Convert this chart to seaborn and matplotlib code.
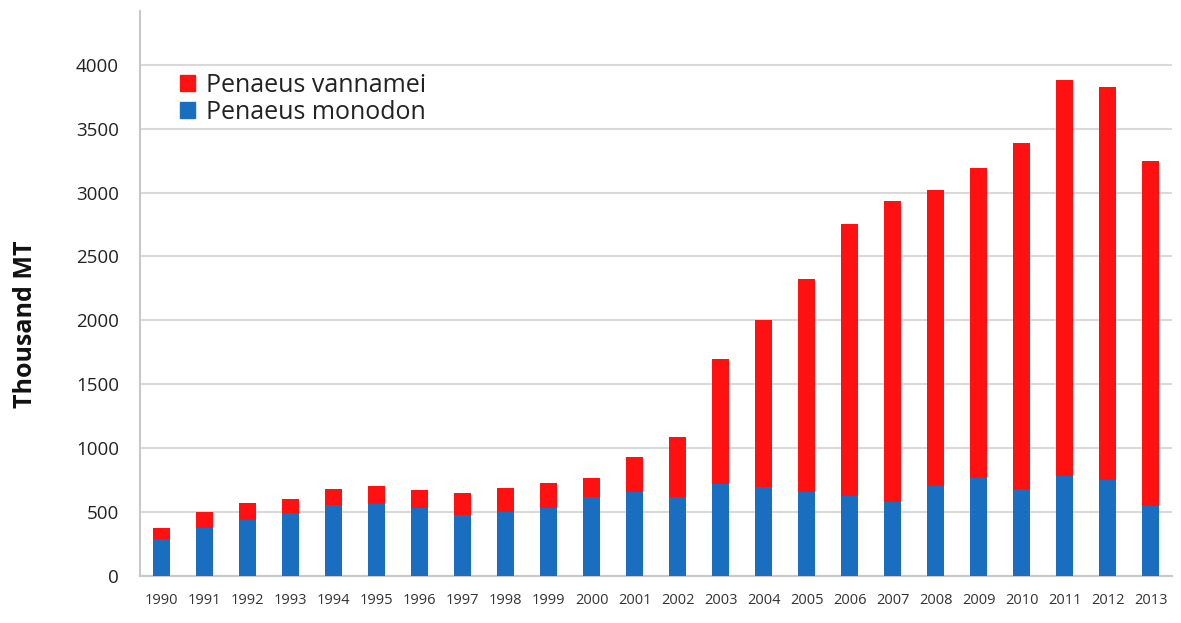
import numpy as np
import pandas as pd
import matplotlib
matplotlib.use("Agg")
import matplotlib.pyplot as plt
import seaborn as sns
from matplotlib.patches import Patch
from matplotlib.ticker import MultipleLocator, FixedLocator

# Data (thousand MT)

years = [str(y) for y in range(1990, 2014)]
monodon = [286, 375, 435, 495, 552, 560, 529, 474, 497, 536, 622, 661,
           617, 716, 698, 654, 628, 581, 708, 763, 677, 786, 750, 547]
vannamei = [86, 122, 138, 106, 125, 146, 143, 172, 190, 191, 141, 271,
            474, 982, 1307, 1672, 2122, 2351, 2315, 2430, 2708, 3097, 3076, 2700]

df = pd.DataFrame({"year": years, "monodon": monodon, "vannamei": vannamei})
df["total"] = df["monodon"] + df["vannamei"]

RED = "#FF1111"
BLUE = "#1A6EC0"
GRID = "#D9D9D9"

sns.set_style("white")
plt.rcParams["font.family"] = ["Open Sans", "DejaVu Sans"]

fig = plt.figure(figsize=(11.81, 6.23), dpi=100)
ax = fig.add_axes([0.1185, 0.0754, 0.874, 0.907])

# stacked bars: total in red, monodon in blue on top of it
sns.barplot(data=df, x="year", y="total", color=RED, width=0.4,
            saturation=1, linewidth=0, ax=ax, zorder=3)
sns.barplot(data=df, x="year", y="monodon", color=BLUE, width=0.4,
            saturation=1, linewidth=0, ax=ax, zorder=4)

ax.set_xlim(-0.5, len(years) - 0.5)
ax.set_ylim(0, 4420)
ax.yaxis.set_major_locator(MultipleLocator(500))
ax.yaxis.grid(True, color=GRID, linewidth=1.5, zorder=0)
ax.set_axisbelow(True)

for s in ["top", "right"]:
    ax.spines[s].set_visible(False)
for s in ["left", "bottom"]:
    ax.spines[s].set_color("#C8C8C8")
    ax.spines[s].set_linewidth(1.5)

ax.tick_params(axis="y", length=7, width=1.5, color="#C8C8C8",
               labelsize=13.5, labelcolor="#222222", pad=8)
ax.tick_params(axis="x", which="major", length=0, labelsize=10.5,
               labelcolor="#333333", pad=12)
ax.xaxis.set_minor_locator(FixedLocator(np.arange(-0.5, len(years), 1.0)))
ax.tick_params(axis="x", which="minor", length=5, width=1.5, color="#C8C8C8")

ax.set_xlabel("")
ax.set_ylabel("Thousand MT", fontsize=18, fontweight="bold", color="#111111")
ax.yaxis.set_label_coords(-0.099, 0.446)

handles = [Patch(color=RED, label="Penaeus vannamei"),
           Patch(color=BLUE, label="Penaeus monodon")]
ax.legend(handles=handles, loc="upper left", bbox_to_anchor=(0.039, 0.891),
          frameon=False, fontsize=18, handlelength=0.6, handleheight=0.6,
          handletextpad=0.45, labelspacing=0.1, borderpad=0,
          borderaxespad=0, labelcolor="#222222")

plt.savefig("out.png", dpi=100)
plt.close()
